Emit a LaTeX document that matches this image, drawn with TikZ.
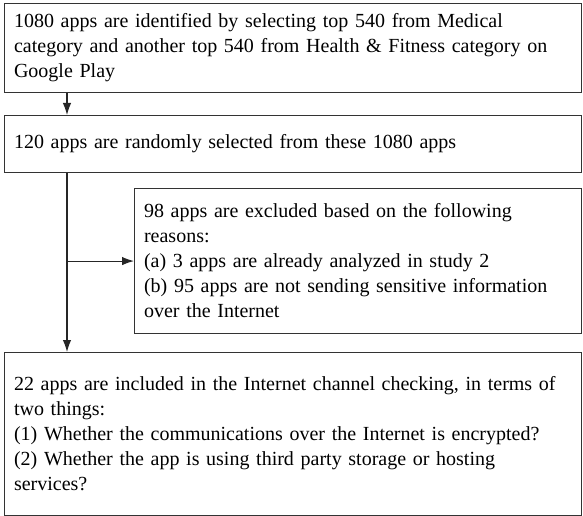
\documentclass[tikz,border=0pt]{standalone}
\usepackage{fontspec}
\setmainfont{Liberation Serif}
\usetikzlibrary{arrows.meta}

\begin{document}
\begin{tikzpicture}[x=1pt, y=-1pt,
  stagebox/.style={draw=black!80, line width=1.1pt, anchor=north west, align=left,
    inner xsep=9.5pt, inner ysep=0pt, font=\fontsize{20}{25}\selectfont},
  flow/.style={-{Latex[length=12pt,width=8.5pt]}, line width=1.1pt, draw=black!85}]
\useasboundingbox (0,0) rectangle (583,516);
% \node at (300,-10) {Selection};
\node[stagebox, text width=558pt, minimum height=89pt] (Identified) at (4,3)
  {1080 apps are identified by selecting top 540 from Medical\\
   category and another top 540 from Health \& Fitness category on\\
   Google Play};
\node[stagebox, text width=558pt, minimum height=57pt] (Selected) at (4,115)
  {120 apps are randomly selected from these 1080 apps};
\node[stagebox, text width=428pt, minimum height=145pt] (Excluded) at (134,188)
  {98 apps are excluded based on the following\\
   reasons:\\
   (a) 3 apps are already analyzed in study 2\\
   (b) 95 apps are not sending sensitive information\\
   over the Internet};
\node[stagebox, text width=558pt, minimum height=163pt] (Included) at (4,352)
  {22 apps are included in the Internet channel checking, in terms of\\
   two things:\\
   (1) Whether the communications over the Internet is encrypted?\\
   (2) Whether the app is using third party storage or hosting\\
   services?};

\coordinate (spine) at (67,0);
\draw[flow] (Identified.south -| spine) -- (Selected.north -| spine);
\draw[flow] (Selected.south -| spine) -- (Included.north -| spine);
\draw[flow] (spine |- Excluded.west) -- (Excluded.west);

\end{tikzpicture}
\end{document}
